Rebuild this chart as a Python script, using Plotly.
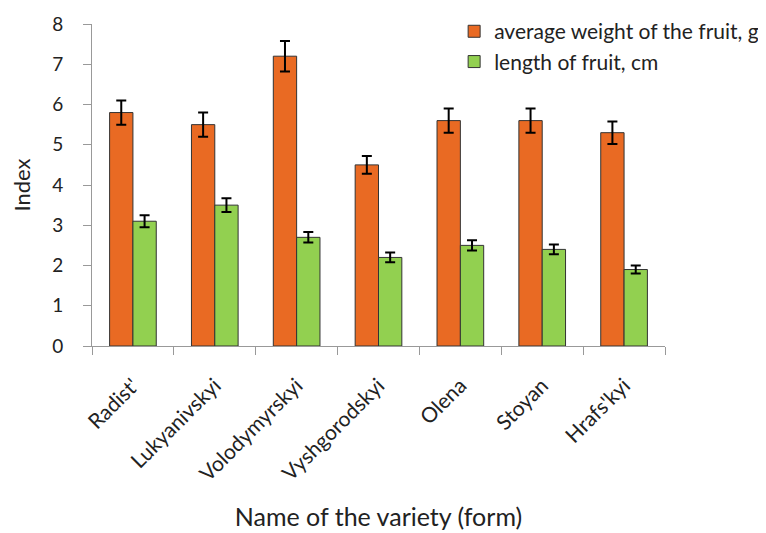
import plotly.graph_objects as go

varieties = ["Radist'", "Lukyanivskyi", "Volodymyrskyi", "Vyshgorodskyi", "Olena", "Stoyan", "Hrafs'kyi"]
weight = [5.8, 5.5, 7.2, 4.5, 5.6, 5.6, 5.3]
weight_err = [0.3, 0.3, 0.38, 0.22, 0.3, 0.3, 0.28]
length = [3.1, 3.5, 2.7, 2.2, 2.5, 2.4, 1.9]
length_err = [0.15, 0.17, 0.13, 0.12, 0.13, 0.12, 0.1]

FONT = "Lato, Open Sans, sans-serif"

fig = go.Figure()
fig.add_trace(go.Bar(
    x=varieties, y=weight, name="average weight of the fruit, g",
    marker=dict(color="#E96A23", line=dict(color="#333333", width=1)),
    error_y=dict(type="data", array=weight_err, color="black", thickness=2, width=5),
))
fig.add_trace(go.Bar(
    x=varieties, y=length, name="length of fruit, cm",
    marker=dict(color="#92D050", line=dict(color="#333333", width=1)),
    error_y=dict(type="data", array=length_err, color="black", thickness=2, width=5),
))

fig.update_layout(
    width=766, height=533,
    barmode="group", bargap=0.43, bargroupgap=0,
    plot_bgcolor="white", paper_bgcolor="white",
    margin=dict(l=84, r=109, t=16, b=195, autoexpand=False),
    font=dict(family=FONT, size=18, color="#222222"),
    legend=dict(x=0.632, y=1.04, xanchor="left", yanchor="top",
                font=dict(size=21, color="#222222"), bgcolor="rgba(0,0,0,0)",
                tracegroupgap=0, itemwidth=30),
    xaxis=dict(
        title=dict(text="Name of the variety (form)", font=dict(size=25), standoff=24),
        tickangle=-45, tickfont=dict(size=21), ticklabelstandoff=18,
        showline=True, linecolor="#999999", linewidth=1,
        ticks="outside", ticklen=8, tickcolor="#999999",
        tickson="boundaries", showgrid=False, automargin=False,
    ),
    yaxis=dict(
        title=dict(text="Index", font=dict(size=22), standoff=18),
        range=[0, 8], dtick=1, tickfont=dict(size=19), ticklabelstandoff=16,
        showline=True, linecolor="#999999", linewidth=1,
        ticks="outside", ticklen=8, tickcolor="#999999", showgrid=False,
        zeroline=False, automargin=False,
    ),
)

fig.write_html("out.html")
